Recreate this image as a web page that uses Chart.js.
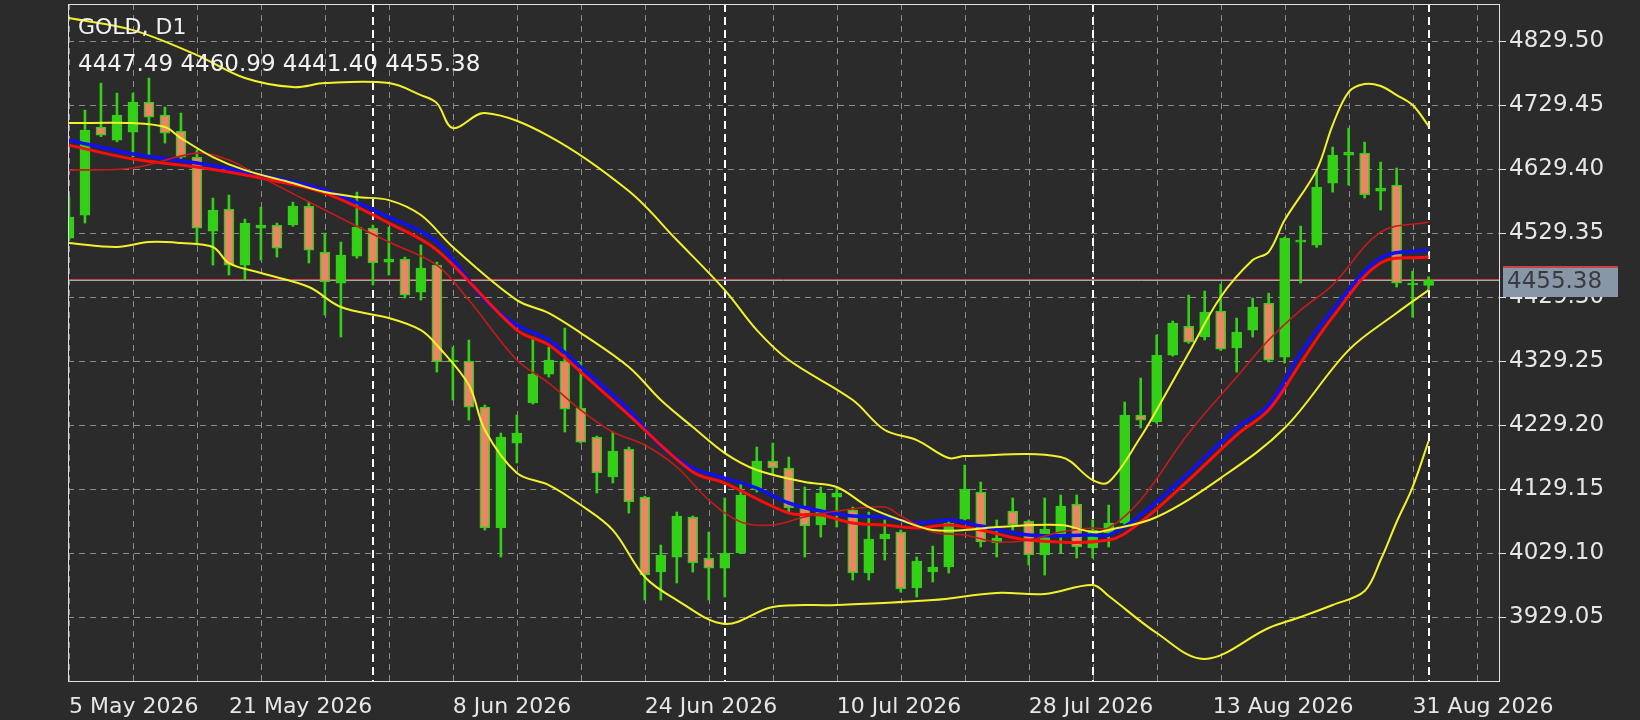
<!DOCTYPE html>
<html>
<head>
<meta charset="utf-8">
<script src="https://cdn.jsdelivr.net/npm/chart.js@4/dist/chart.umd.min.js"></script>
<style>
  html, body { margin: 0; padding: 0; background: #2b2b2b; }
  #wrap { width: 1640px; height: 720px; position: relative; }
</style>
</head>
<body>
<div id="wrap"><canvas id="chart"></canvas></div>
<script>
"use strict";

// OHLC, one bar per day (index 0..85)
const opens = [4521.5,4557.5,4695.1,4674.7,4687.2,4734.1,4713.8,4688.8,4648.2,4532.5,
  4566.9,4479.3,4537.2,4541.9,4541.9,4571.6,4499.7,4451.2,4493.4,4537.2,
  4484.0,4488.7,4437.1,4479.3,4327.7,4329.2,4257.3,4068.2,4201.0,4263.6,
  4308.9,4329.2,4255.8,4210.4,4147.9,4191.7,4116.6,3999.4,4022.8,4085.4,
  4021.3,4005.6,4029.1,4127.6,4172.9,4162.0,4101.0,4072.9,4116.6,4096.3,
  3997.8,4051.0,4061.9,3974.4,3999.4,4007.2,4082.2,4124.4,4044.7,4094.7,
  4079.1,4026.0,4058.8,4105.7,4036.9,4060.4,4076.0,4244.8,4233.9,4338.6,
  4384.0,4366.8,4407.4,4349.6,4377.7,4420.0,4335.5,4515.3,4510.6,4607.5,
  4651.3,4654.4,4595.0,4604.4,4448.1,4447.49];
const highs = [4585.6,4721.6,4763.8,4748.2,4748.2,4771.7,4726.3,4717.0,4659.1,4584.1,
  4588.8,4551.2,4570.0,4545.0,4577.8,4577.8,4529.3,4515.3,4593.4,4541.9,
  4538.7,4491.8,4510.6,4484.0,4351.1,4362.1,4260.5,4216.7,4244.8,4366.8,
  4351.1,4380.8,4327.7,4212.0,4218.3,4194.8,4118.0,4041.6,4093.2,4087.0,
  4061.9,4115.1,4140.1,4194.8,4201.0,4179.2,4132.3,4132.3,4130.7,4101.0,
  4093.2,4080.7,4065.0,4022.8,4040.0,4080.7,4166.6,4140.1,4080.7,4115.1,
  4080.7,4115.1,4119.8,4119.8,4080.7,4104.1,4265.2,4302.7,4369.9,4391.8,
  4432.4,4438.7,4449.6,4396.5,4427.7,4435.5,4523.0,4540.3,4627.8,4663.8,
  4693.5,4671.6,4640.3,4631.0,4470.0,4460.99];
const lows = [4518.4,4545.0,4680.0,4672.0,4648.2,4648.2,4670.0,4646.0,4510.6,4479.3,
  4463.7,4455.9,4487.1,4491.8,4540.0,4482.5,4401.2,4366.8,4490.0,4448.1,
  4463.7,4427.7,4424.6,4312.1,4268.3,4237.0,4065.0,4022.8,4169.8,4262.0,
  4304.2,4218.3,4201.0,4122.9,4138.5,4091.6,3955.6,3955.6,3982.2,3999.4,
  3955.6,3960.3,4028.0,4124.4,4151.0,4091.6,4022.8,4054.1,4069.7,3986.9,
  3986.9,4018.2,3968.1,3960.3,3983.8,3997.8,4080.7,4038.5,4022.8,4065.0,
  4010.3,3994.7,4029.1,4021.3,4021.3,4038.5,4074.0,4224.5,4232.0,4337.0,
  4357.0,4362.1,4346.0,4312.1,4366.8,4327.7,4326.1,4451.2,4507.0,4593.4,
  4604.4,4584.1,4565.3,4445.0,4398.0,4441.40];
const closes = [4554.4,4690.4,4682.6,4713.8,4734.1,4710.7,4685.7,4648.2,4537.2,4565.3,
  4479.3,4545.0,4541.9,4505.9,4571.6,4502.8,4452.8,4495.0,4538.7,4482.5,
  4488.7,4432.4,4474.6,4327.7,4330.8,4257.3,4068.2,4210.4,4216.7,4308.9,
  4330.8,4254.2,4202.6,4154.2,4188.5,4108.8,3994.7,4026.0,4086.9,4013.5,
  4005.6,4029.1,4119.8,4172.9,4162.0,4099.5,4071.3,4122.9,4122.9,3997.8,
  4051.0,4058.8,3972.8,4016.6,4007.2,4076.0,4129.2,4046.3,4052.5,4072.9,
  4026.0,4066.6,4102.6,4038.5,4065.0,4076.0,4244.8,4237.0,4338.6,4388.6,
  4358.9,4405.9,4348.0,4374.6,4413.7,4330.8,4521.5,4518.4,4601.3,4651.3,
  4656.0,4588.8,4599.7,4451.2,4451.2,4455.38];

// indicator lines (bar index -> price)
const blueIdx = [0,4,8,12,16,20,23,26,28,30,32,35,37,39,41,43,45,47,49,51,53,55,57,60,64,65,67,70,73,75,77,79,82,85];
const blueVal = [4674.7,4652.9,4638.8,4620.0,4596.6,4554.4,4515.3,4424.6,4385.5,4362.1,4319.9,4252.6,4196.4,4162.0,4146.3,4130.7,4107.3,4094.7,4086.9,4085.4,4076.0,4080.7,4071.3,4057.2,4057.2,4057.2,4088.5,4154.2,4224.5,4260.5,4341.7,4409.0,4490.3,4502.8];
const redIdx = [0,4,8,12,16,20,23,28,30,32,35,39,41,45,47,49,51,53,55,57,60,65,67,70,73,75,77,79,82,85];
const redVal = [4666.9,4645.0,4632.5,4615.3,4591.9,4545.0,4502.8,4377.7,4354.3,4312.1,4244.8,4155.7,4138.5,4091.6,4088.5,4076.0,4072.9,4068.2,4072.9,4065.0,4049.4,4049.4,4077.6,4143.2,4213.6,4252.6,4326.1,4398.0,4482.5,4491.8];
const fastIdx = [0,4,8,10,12,16,20,23,25,28,30,32,34,36,38,40,42,44,46,48,51,52,54,56,58,60,62,64,65,67,70,73,75,77,79,82,85];
const fastVal = [4627.8,4631.0,4654.4,4643.5,4616.9,4565.3,4515.3,4479.3,4424.6,4330.8,4294.8,4252.6,4218.3,4197.9,4163.6,4112.0,4077.6,4072.9,4085.4,4094.7,4101.0,4086.9,4061.9,4057.2,4046.3,4049.4,4061.9,4068.2,4068.2,4112.0,4216.7,4304.2,4362.1,4409.0,4448.1,4530.9,4546.6];
const bbUpIdx = [0,4,8,11,14,16,20,22,23,24,26,30,35,38,41,43,45,49,51,53,55,56,62,64,65,67,68,70,72,74,75,76,78,79,80,81,82,83,84,85];
const bbUpVal = [4865.5,4846.7,4807.6,4771.7,4757.6,4763.8,4763.8,4745.1,4732.6,4693.5,4717.0,4681.0,4595.0,4518.4,4440.2,4377.7,4330.8,4268.3,4221.4,4205.7,4177.6,4180.7,4179.2,4143.2,4140.1,4210.4,4252.6,4341.7,4429.3,4487.1,4499.7,4549.7,4627.8,4698.2,4749.8,4762.3,4759.2,4745.1,4729.5,4696.6];
const bbMidIdx = [0,4,6,7,9,11,14,16,18,20,22,24,28,30,32,35,37,39,41,43,46,48,50,52,54,56,58,62,64,65,68,72,76,80,83,85];
const bbMidVal = [4701.3,4701.3,4695.1,4677.9,4648.2,4627.8,4607.5,4593.4,4585.6,4580.9,4557.5,4507.5,4424.6,4404.3,4373.0,4319.9,4268.3,4226.1,4185.4,4158.9,4140.1,4132.3,4101.0,4080.7,4065.0,4065.0,4069.7,4072.9,4061.9,4065.0,4085.4,4146.3,4224.5,4346.4,4404.3,4440.2];
const bbLowIdx = [0,3,5,7,9,10,12,15,17,20,22,23,25,26,28,30,32,34,36,38,41,44,48,54,58,61,64,65,68,71,75,77,79,81,82,83,84,85];
const bbLowVal = [4513.7,4507.5,4515.3,4513.7,4507.5,4482.5,4466.8,4445.0,4413.7,4396.5,4377.7,4354.3,4291.7,4221.4,4154.2,4135.4,4104.1,4065.0,3991.6,3955.6,3918.1,3944.7,3947.8,3955.6,3966.6,3965.0,3979.1,3961.9,3904.1,3863.4,3911.9,3929.1,3947.8,3969.7,4018.2,4077.6,4132.3,4204.2];

const priceTicks = [3929.05,4029.10,4129.15,4229.20,4329.25,4429.30,4529.35,4629.40,4729.45,4829.50];
const dateIdx = [0,10,24,36,48,60,71.5,84];
const dateLabels = ["5 May 2026","21 May 2026","8 Jun 2026","24 Jun 2026","10 Jul 2026","28 Jul 2026","13 Aug 2026","31 Aug 2026"];
const separatorIdx = [19,41,64,85];
const lastPrice = 4455.38;

const GREEN = "#33d017";
const SALMON = "#ec8465";
const FONT = "'DejaVu Sans', 'Noto Sans', sans-serif";

let bodies = opens.map((o, i) => ({x: i, y: [o, closes[i]]}));
let wicks = highs.map((h, i) => ({x: i, y: [lows[i], h]}));
let bodyColors = opens.map((o, i) => closes[i] >= o ? GREEN : SALMON);

let pts = (idx, val) => idx.map((x, i) => ({x: x, y: val[i]}));
let lineDs = (label, idx, val, color, width) => ({
  type: "line", label: label, data: pts(idx, val), borderColor: color,
  borderWidth: width, pointRadius: 0, tension: 0.35, order: 0, parsing: false
});

// grid, separators, price line, legend text
const overlay = {
  id: "overlay",
  beforeDatasetsDraw(chart) {
    const {ctx, chartArea: a, scales: {x, y}} = chart;
    ctx.save();
    ctx.strokeStyle = "#8c8c8c";
    ctx.lineWidth = 1;
    ctx.setLineDash([6, 5]);
    for (let v of priceTicks) {
      let py = Math.round(y.getPixelForValue(v)) + 0.5;
      ctx.beginPath(); ctx.moveTo(a.left, py); ctx.lineTo(a.right, py); ctx.stroke();
    }
    for (let i = 0; i <= 88; i += 4) {
      let px = Math.round(x.getPixelForValue(i)) + 0.5;
      ctx.beginPath(); ctx.moveTo(px, a.top); ctx.lineTo(px, a.bottom); ctx.stroke();
    }
    ctx.strokeStyle = "#ffffff";
    ctx.lineWidth = 2;
    ctx.setLineDash([8, 5]);
    for (let i of separatorIdx) {
      let px = Math.round(x.getPixelForValue(i));
      ctx.beginPath(); ctx.moveTo(px, a.top); ctx.lineTo(px, a.bottom); ctx.stroke();
    }
    ctx.setLineDash([]);
    let py = Math.round(y.getPixelForValue(lastPrice));
    ctx.lineWidth = 1;
    ctx.strokeStyle = "#c8434a";
    ctx.beginPath(); ctx.moveTo(a.left, py - 0.5); ctx.lineTo(a.right, py - 0.5); ctx.stroke();
    ctx.strokeStyle = "#a9a9a9";
    ctx.beginPath(); ctx.moveTo(a.left, py + 0.5); ctx.lineTo(a.right, py + 0.5); ctx.stroke();
    ctx.restore();
  },
  afterDraw(chart) {
    const {ctx, chartArea: a, scales: {y}} = chart;
    ctx.save();
    ctx.strokeStyle = "#e0e0e0";
    ctx.lineWidth = 1;
    ctx.strokeRect(a.left + 0.5, a.top + 0.5, a.right - a.left, a.bottom - a.top);
    // last price box
    let py = Math.round(y.getPixelForValue(lastPrice));
    ctx.fillStyle = "#8797a8";
    ctx.fillRect(a.right + 4, py - 14, 115, 31);
    ctx.fillStyle = "#c8434a";
    ctx.fillRect(a.right + 4, py - 14, 115, 2);
    ctx.fillStyle = "#3a3a42";
    ctx.font = "23px " + FONT;
    ctx.textBaseline = "middle";
    ctx.fillText(lastPrice.toFixed(2), a.right + 8, py + 2);
    // header
    ctx.fillStyle = "#f2f2f2";
    ctx.font = "22px " + FONT;
    ctx.textBaseline = "alphabetic";
    ctx.fillText("GOLD, D1", a.left + 10, 34);
    ctx.font = "23px " + FONT;
    ctx.fillText([opens[85], highs[85], lows[85], closes[85]].map(v => v.toFixed(2)).join(" "), a.left + 10, 71);
    ctx.restore();
  }
};

let chart = new Chart(document.querySelector("#chart"), {
  type: "bar",
  data: {
    datasets: [
      lineDs("BB upper", bbUpIdx, bbUpVal, "#f2f22a", 2),
      lineDs("BB middle", bbMidIdx, bbMidVal, "#f2f22a", 2),
      lineDs("BB lower", bbLowIdx, bbLowVal, "#f2f22a", 2),
      lineDs("MA fast", fastIdx, fastVal, "#c41a1a", 1.6),
      lineDs("MA slow", redIdx, redVal, "#ff0c0c", 3),
      lineDs("MA", blueIdx, blueVal, "#1010f0", 3.5),
      {label: "body", data: bodies, backgroundColor: bodyColors, borderColor: GREEN,
        borderWidth: 1.5, borderSkipped: false, barThickness: 10, grouped: false, order: 1},
      {label: "wick", data: wicks, backgroundColor: GREEN, barThickness: 2, grouped: false, order: 2}
    ]
  },
  plugins: [overlay],
  options: {
    responsive: true,
    maintainAspectRatio: false,
    animation: false,
    clip: {left: 0, top: false, right: false, bottom: 0},
    layout: {padding: {left: 68, top: 4, right: 0, bottom: 0}},
    plugins: {legend: {display: false}, tooltip: {enabled: false}},
    scales: {
      x: {
        type: "linear", min: -0.06, max: 89.4, offset: false,
        grid: {display: false}, border: {display: false},
        afterBuildTicks: axis => { axis.ticks = dateIdx.map(v => ({value: v})); },
        afterFit: axis => { axis.height = 39; axis.paddingLeft = 0; axis.paddingRight = 0; },
        ticks: {
          align: "start", maxRotation: 0, autoSkip: false, padding: 5,
          color: "#e6e6e6", font: {family: FONT, size: 22},
          callback: v => dateLabels[dateIdx.indexOf(v)]
        }
      },
      y: {
        position: "right", min: 3829.0, max: 4887.5,
        grid: {drawOnChartArea: false, tickLength: 7, color: "#e0e0e0"},
        border: {display: false},
        afterBuildTicks: axis => { axis.ticks = priceTicks.map(v => ({value: v})); },
        afterFit: axis => { axis.width = 141; axis.paddingTop = 0; axis.paddingBottom = 0; },
        ticks: {color: "#e6e6e6", padding: 3, font: {family: FONT, size: 23},
          callback: v => v.toFixed(2)}
      }
    }
  }
});
</script>
</body>
</html>
